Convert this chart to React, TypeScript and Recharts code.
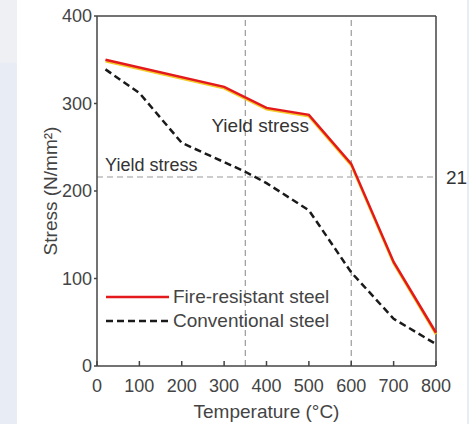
import React from "react";
import {
  LineChart,
  Line,
  XAxis,
  YAxis,
  ReferenceLine,
  ReferenceDot,
  Legend,
} from "recharts";

// values
const fireTemps = [20, 300, 400, 500, 600, 700, 800];
const fireStress = [350, 319, 295, 287, 231, 119, 38];

const convTemps = [20, 100, 200, 350, 400, 500, 600, 700, 800];
const convStress = [339, 312, 255, 222, 209, 178, 107, 54, 25];

const xTicks = [0, 100, 200, 300, 400, 500, 600, 700, 800];
const yTicks = [0, 100, 200, 300, 400];

const markTemps = [350, 600];
const yieldLevel = 216;

const FONT = "'Liberation Sans', Arial, Helvetica, sans-serif";
const TEXT = "#444";

const allTemps = Array.from(new Set([...fireTemps, ...convTemps])).sort(
  (a, b) => a - b
);
const chartData = allTemps.map((t) => {
  const fi = fireTemps.indexOf(t);
  const ci = convTemps.indexOf(t);
  return {
    temp: t,
    fire: fi >= 0 ? fireStress[fi] : null,
    conv: ci >= 0 ? convStress[ci] : null,
  };
});

function LegendBox() {
  const rows = [
    { label: "Fire-resistant steel", color: "#e3191c", dash: undefined },
    { label: "Conventional steel", color: "#1a1a1a", dash: "7 4" },
  ];
  return (
    <div style={{ fontFamily: FONT, fontSize: 19, color: TEXT }}>
      {rows.map((r) => (
        <div
          key={r.label}
          style={{ display: "flex", alignItems: "center", height: 24 }}
        >
          <svg width={66} height={10}>
            <line
              x1={1}
              y1={5}
              x2={64}
              y2={5}
              stroke={r.color}
              strokeWidth={2.5}
              strokeDasharray={r.dash}
            />
          </svg>
          <span style={{ marginLeft: 2 }}>{r.label}</span>
        </div>
      ))}
    </div>
  );
}

export default function App() {
  return (
    <div
      style={{
        position: "absolute",
        left: 0,
        top: 0,
        width: 469,
        height: 424,
        background: "#e8edf5",
        overflow: "hidden",
      }}
    >
      <style>{`.fire-glow { transform: translateY(1.5px); }`}</style>
      <div
        style={{
          position: "absolute",
          left: 0,
          top: 0,
          width: 17,
          height: 63,
          background: "#eef0f3",
        }}
      />
      <div
        style={{
          position: "absolute",
          left: 17,
          top: 0,
          width: 450,
          height: 424,
          background: "#ffffff",
        }}
      />
      <div style={{ position: "absolute", left: 0, top: 0 }}>
        <LineChart
          width={469}
          height={424}
          data={chartData}
          margin={{ top: 16, right: 33, bottom: 0, left: 0 }}
        >
          <XAxis
            dataKey="temp"
            type="number"
            domain={[0, 800]}
            ticks={xTicks}
            height={58}
            stroke="#444"
            strokeWidth={1.5}
            tickSize={-5}
            tickMargin={18}
            tick={{ fill: TEXT, fontSize: 18, fontFamily: FONT }}
            label={{
              value: "Temperature (°C)",
              position: "insideBottom",
              offset: 6,
              fill: TEXT,
              fontSize: 19,
              fontFamily: FONT,
            }}
          />
          <YAxis
            type="number"
            domain={[0, 400]}
            ticks={yTicks}
            width={97}
            stroke="#444"
            strokeWidth={1.5}
            tickSize={3}
            tickMargin={2}
            tick={{ fill: TEXT, fontSize: 18, fontFamily: FONT }}
            label={{
              value: "Stress (N/mm²)",
              angle: -90,
              position: "insideLeft",
              offset: 50,
              fill: TEXT,
              fontSize: 19,
              fontFamily: FONT,
              style: { textAnchor: "middle" },
            }}
          />
          <ReferenceLine y={400} stroke="#444" strokeWidth={1.5} />
          <ReferenceLine x={800} stroke="#444" strokeWidth={1.5} />
          {markTemps.map((t) => (
            <ReferenceLine
              key={t}
              x={t}
              stroke="#9a9a9a"
              strokeWidth={1.2}
              strokeDasharray="6 4"
            />
          ))}
          <ReferenceLine
            y={yieldLevel}
            stroke="#9a9a9a"
            strokeWidth={1.2}
            strokeDasharray="6 4"
            label={{
              value: "21",
              position: "right",
              offset: 10,
              fill: "#333",
              fontSize: 19,
              fontFamily: FONT,
            }}
          />
          <ReferenceDot
            x={385}
            y={275}
            r={0}
            fill="none"
            stroke="none"
            label={{
              value: "Yield stress",
              position: "center",
              fill: "#333",
              fontSize: 19,
              fontFamily: FONT,
            }}
          />
          <ReferenceDot
            x={128}
            y={230}
            r={0}
            fill="none"
            stroke="none"
            label={{
              value: "Yield stress",
              position: "center",
              fill: "#333",
              fontSize: 18,
              fontFamily: FONT,
            }}
          />
          <Line
            className="fire-glow"
            dataKey="fire"
            type="linear"
            stroke="#f3cb2a"
            strokeWidth={2.5}
            dot={false}
            connectNulls
            legendType="none"
            isAnimationActive={false}
          />
          <Line
            dataKey="fire"
            name="Fire-resistant steel"
            type="linear"
            stroke="#e3191c"
            strokeWidth={2.5}
            dot={false}
            connectNulls
            isAnimationActive={false}
          />
          <Line
            dataKey="conv"
            name="Conventional steel"
            type="linear"
            stroke="#1a1a1a"
            strokeWidth={2.5}
            strokeDasharray="7 4"
            dot={false}
            connectNulls
            isAnimationActive={false}
          />
          <Legend
            content={<LegendBox />}
            layout="horizontal"
            align="center"
            verticalAlign="middle"
            wrapperStyle={{ left: 105, top: 285, width: "auto" }}
          />
        </LineChart>
      </div>
    </div>
  );
}
